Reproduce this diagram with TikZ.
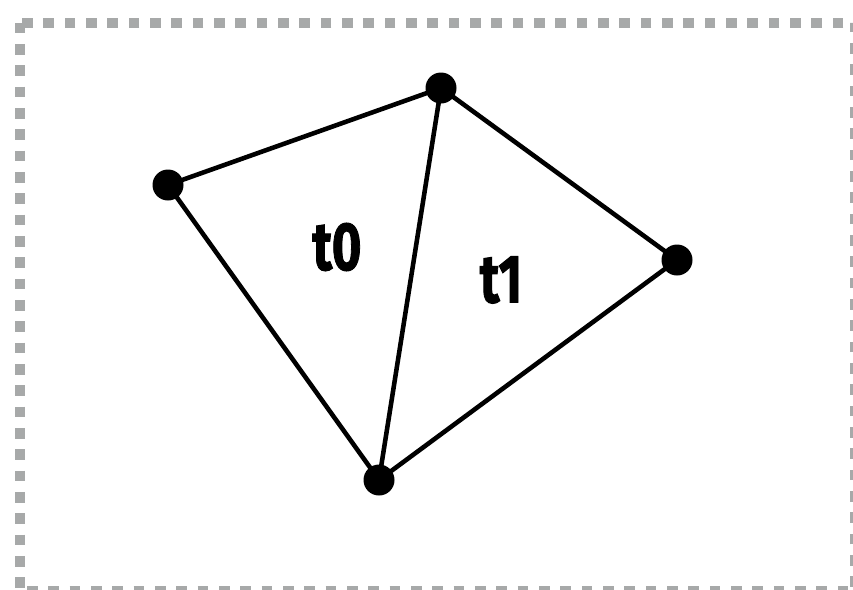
\documentclass[tikz,border=0pt]{standalone}
\usepackage{fontspec}
\setmainfont{Fira Sans}
\newfontfamily\trifont[FakeBold=1.5]{Fira Sans Bold}
\usepackage{tikz}
\usetikzlibrary{positioning}
\definecolor{frameG}{HTML}{A7A9A9}

\begin{document}
\begin{tikzpicture}[
  x=0.03cm, y=-0.03cm,
  vtx/.style={circle, fill=black, inner sep=0pt, minimum size=0.93cm},
  edge/.style={line width=3.9pt, black},
  frame/.style={line width=0.3cm, frameG, dash pattern=on 0.32cm off 0.32cm},
  tri/.style={font=\fontsize{58}{60}\trifont, inner sep=0pt}
]
  \useasboundingbox (0,0) rectangle (853,589);
  \draw[frame] (19.5,22.5) rectangle (855,591);
  \foreach \i/\px/\py in {0/168/185, 1/441/88, 2/677/260, 3/379/480} {
     \coordinate (p\i) at (\px,\py);
  }
  \foreach \a/\b in {0/1, 1/2, 1/3, 0/3, 3/2} {
     \draw[edge] (p\a) -- (p\b);
  }
  \foreach \i in {0,1,2,3} {
     \node[vtx] (v\i) at (p\i) {};
  }
  \node[tri] (t0) at (337,247) {\scalebox{0.75}[1]{t0}};
  \node[tri] (t1) at (501,280) {\scalebox{0.75}[1]{t1}};
\end{tikzpicture}
\end{document}
